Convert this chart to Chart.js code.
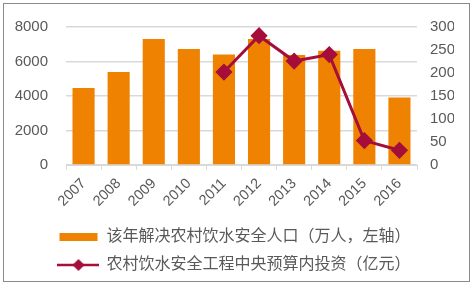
<!DOCTYPE html>
<html>
<head>
<meta charset="utf-8">
<script src="https://cdn.jsdelivr.net/npm/chart.js@4"></script>
<style>
    html, body { margin: 0; padding: 0; background: #fff; }
    #wrap { position: relative; width: 472px; height: 285px; }
    #frame { position: absolute; left: 3px; top: 3px; width: 465px; height: 277px; border: 1px solid #8a8a8a; pointer-events: none; }
</style>
</head>
<body>
<div id="wrap">
    <canvas id="myChart" width="472" height="285"></canvas>
    <div id="frame"></div>
</div>
<script>
const years = ['2007', '2008', '2009', '2010', '2011', '2012', '2013', '2014', '2015', '2016'];
const peopleSolved = [4470, 5390, 7300, 6730, 6400, 7300, 6370, 6620, 6730, 3910];
const centralInvest = [null, null, null, null, 202, 281, 226, 240, 53, 32];
const leftTicks = [0, 2000, 4000, 6000, 8000];
const rightTicks = [0, 50, 100, 150, 200, 250, 300];

const barLabel = '该年解决农村饮水安全人口（万人，左轴）';
const lineLabel = '农村饮水安全工程中央预算内投资（亿元）';

const orange = '#EF8200';
const wine = '#A50D3B';
const textColor = '#595959';
const gridColor = '#D9D9D9';
const fontFamily = '"Liberation Sans", "Noto Sans CJK SC", sans-serif';

// legend swatches
function barSwatch() {
    let c = document.createElement('canvas');
    c.width = 40; c.height = 8;
    let g = c.getContext('2d');
    g.fillStyle = orange;
    g.fillRect(1, 0, 38, 8);
    return c;
}

function lineSwatch() {
    let c = document.createElement('canvas');
    c.width = 42; c.height = 14;
    let g = c.getContext('2d');
    g.strokeStyle = wine;
    g.lineWidth = 2.5;
    g.beginPath();
    g.moveTo(0, 7);
    g.lineTo(42, 7);
    g.stroke();
    g.fillStyle = wine;
    g.beginPath();
    g.moveTo(21, 1);
    g.lineTo(27, 7);
    g.lineTo(21, 13);
    g.lineTo(15, 7);
    g.closePath();
    g.fill();
    return c;
}

const swatches = [barSwatch(), lineSwatch()];

let ctx = document.getElementById('myChart').getContext('2d');
let myChart = new Chart(ctx, {
    data: {
        labels: years,
        datasets: [
            {
                type: 'bar',
                label: barLabel,
                data: peopleSolved,
                backgroundColor: orange,
                yAxisID: 'y',
                barPercentage: 0.63,
                categoryPercentage: 1,
                order: 1
            },
            {
                type: 'line',
                label: lineLabel,
                data: centralInvest,
                borderColor: wine,
                backgroundColor: wine,
                borderWidth: 3,
                pointStyle: 'rectRot',
                pointRadius: 6.5,
                pointBackgroundColor: wine,
                pointBorderColor: wine,
                spanGaps: false,
                tension: 0,
                yAxisID: 'y1',
                order: 0
            }
        ]
    },
    options: {
        responsive: false,
        animation: false,
        layout: {
            padding: { top: 24, left: 15, right: 18, bottom: 2 }
        },
        scales: {
            x: {
                grid: {
                    offset: true,
                    drawOnChartArea: false,
                    drawTicks: true,
                    tickLength: 5,
                    color: gridColor
                },
                border: { display: true, color: gridColor },
                ticks: {
                    color: textColor,
                    font: { family: fontFamily, size: 14.5 },
                    minRotation: 45,
                    maxRotation: 45,
                    padding: 5
                },
                afterFit: (axis) => { axis.height = 52; }
            },
            y: {
                position: 'left',
                min: 0,
                max: 8000,
                afterBuildTicks: (axis) => { axis.ticks = leftTicks.map(v => ({ value: v })); },
                grid: { color: gridColor, drawTicks: false, lineWidth: 1.5 },
                border: { display: false },
                ticks: {
                    color: textColor,
                    font: { family: fontFamily, size: 15 },
                    padding: 18,
                    callback: (value) => String(value)
                },
                afterFit: (axis) => { axis.width = 51; }
            },
            y1: {
                position: 'right',
                min: 0,
                max: 300,
                afterBuildTicks: (axis) => { axis.ticks = rightTicks.map(v => ({ value: v })); },
                grid: { drawOnChartArea: false, drawTicks: false },
                border: { display: false },
                ticks: {
                    color: textColor,
                    font: { family: fontFamily, size: 15 },
                    padding: 13,
                    callback: (value) => String(value)
                },
                afterFit: (axis) => { axis.width = 37; }
            }
        },
        plugins: {
            tooltip: { enabled: false },
            legend: {
                position: 'bottom',
                labels: {
                    color: textColor,
                    font: { family: fontFamily, size: 16 },
                    usePointStyle: true,
                    pointStyleWidth: 40,
                    padding: 12,
                    generateLabels: (chart) => {
                        let items = Chart.defaults.plugins.legend.labels.generateLabels(chart);
                        items.sort((a, b) => a.datasetIndex - b.datasetIndex);
                        items.forEach(item => { item.pointStyle = swatches[item.datasetIndex]; });
                        return items;
                    }
                }
            }
        }
    }
});
</script>
</body>
</html>
